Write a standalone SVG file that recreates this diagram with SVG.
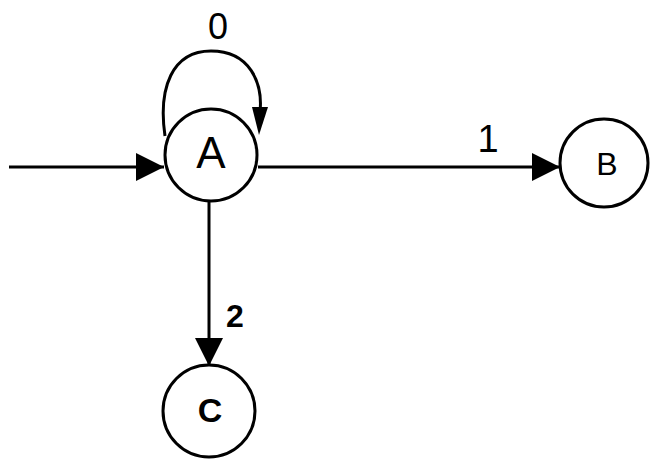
<svg xmlns="http://www.w3.org/2000/svg" width="656" height="459" viewBox="0 0 656 459">
<style>
.st{fill:#fff;stroke:#000;stroke-width:3}
.ln{fill:none;stroke:#000;stroke-width:3}
.lb{font-family:"Liberation Sans",Arial,sans-serif;fill:#000;text-anchor:middle}
</style>
<defs>
<marker id="ah" viewBox="0 0 28 28" refX="28" refY="14" markerWidth="28" markerHeight="28" markerUnits="userSpaceOnUse" orient="auto">
<path d="M0,0 L28,14 L0,28 Z" fill="#000"/>
</marker>
</defs>
<rect width="656" height="459" fill="#fff"/>
<g id="connectors">
<line class="ln" x1="9" y1="167" x2="164" y2="167" marker-end="url(#ah)"/>
<line class="ln" x1="258" y1="167" x2="560" y2="167" marker-end="url(#ah)"/>
<line class="ln" x1="209" y1="200" x2="209" y2="366" marker-end="url(#ah)"/>
<path class="ln" d="M165,136 C158,88 172,51 211,51 C250,51 263,83 260,112"/>
<path d="M252,107 L268,107 L259,135 Z" fill="#000"/>
<text class="lb" x="218" y="39" font-size="36">0</text>
<text class="lb" x="488" y="152" font-size="38">1</text>
<text class="lb" x="235" y="327" font-size="32" font-weight="bold">2</text>
</g>
<g id="node-A">
<circle class="st" cx="211" cy="155" r="46"/>
<text class="lb" x="211" y="168" font-size="44">A</text>
</g>
<g id="node-B">
<circle class="st" cx="604" cy="163" r="44"/>
<text class="lb" x="607" y="175" font-size="32">B</text>
</g>
<g id="node-C">
<circle class="st" cx="209" cy="411" r="46"/>
<text class="lb" x="210" y="422" font-size="34" font-weight="bold">C</text>
</g>
</svg>
